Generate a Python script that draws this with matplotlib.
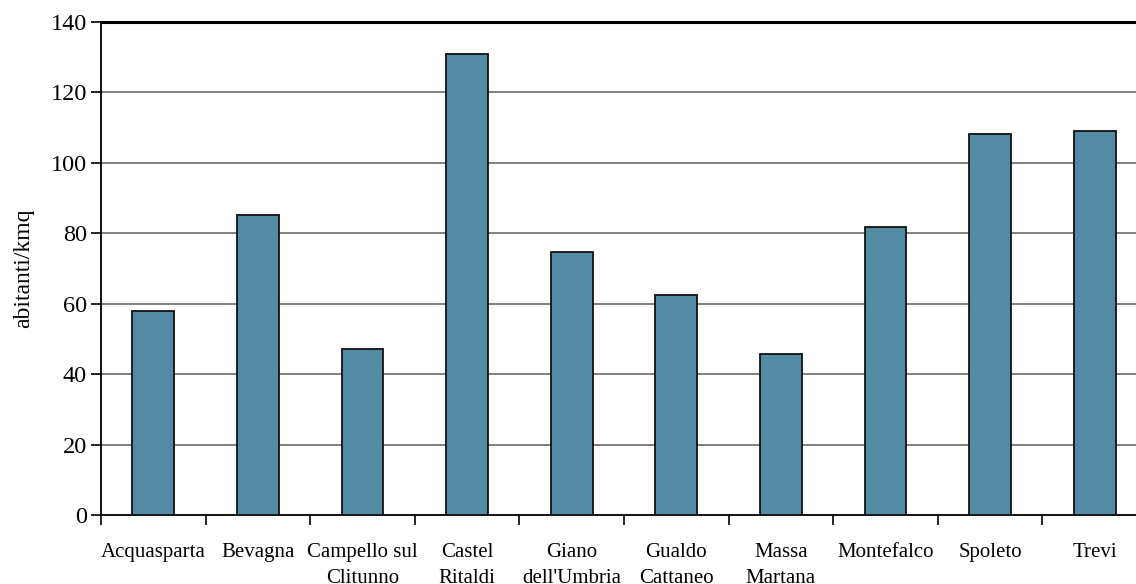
import matplotlib.pyplot as plt
import numpy as np
from matplotlib.ticker import FixedLocator, NullFormatter

# Densità di popolazione per comune
comuni = ['Acquasparta', 'Bevagna', 'Campello sul\nClitunno', 'Castel\nRitaldi',
          "Giano\ndell'Umbria", 'Gualdo\nCattaneo', 'Massa\nMartana',
          'Montefalco', 'Spoleto', 'Trevi']
densita = [58.0, 85.1, 47.1, 130.8, 74.8, 62.5, 45.8, 81.9, 108.2, 109.1]
y_ticks = [0, 20, 40, 60, 80, 100, 120, 140]

plt.rcParams['font.family'] = ['Liberation Serif', 'DejaVu Serif']

fig = plt.figure(figsize=(11.36, 5.84), dpi=100)
ax = fig.add_axes([101 / 1136, 69 / 584, 1046 / 1136, 493 / 584])

x = np.arange(len(comuni))
ax.bar(x, densita, width=0.40, color='#528ba3', edgecolor='#111111',
       linewidth=1.3, zorder=3)

ax.set_xlim(-0.5, len(comuni) - 0.5)
ax.set_ylim(0, 140)

# griglia orizzontale, la linea a 140 in nero
for v in y_ticks[1:-1]:
    ax.axhline(v, color='#7f7f7f', linewidth=1.4, zorder=1)
ax.axhline(140, color='black', linewidth=2.2, zorder=4, clip_on=False)

ax.set_yticks(y_ticks)
ax.tick_params(axis='y', labelsize=17.5, length=7, width=1.2, direction='out', pad=3)

ax.set_xticks(x)
ax.set_xticklabels(comuni, fontsize=15, linespacing=1.55)
ax.tick_params(axis='x', which='major', length=0, pad=20)
ax.xaxis.set_minor_locator(FixedLocator(np.arange(-0.5, len(comuni), 1.0)))
ax.xaxis.set_minor_formatter(NullFormatter())
ax.tick_params(axis='x', which='minor', length=7, width=1.2, direction='out')

ax.spines['top'].set_visible(False)
ax.spines['right'].set_visible(False)
ax.spines['left'].set_linewidth(1.3)
ax.spines['bottom'].set_linewidth(1.3)

ax.set_ylabel('abitanti/kmq', fontsize=17, labelpad=12)

fig.savefig('out.png', dpi=100)
